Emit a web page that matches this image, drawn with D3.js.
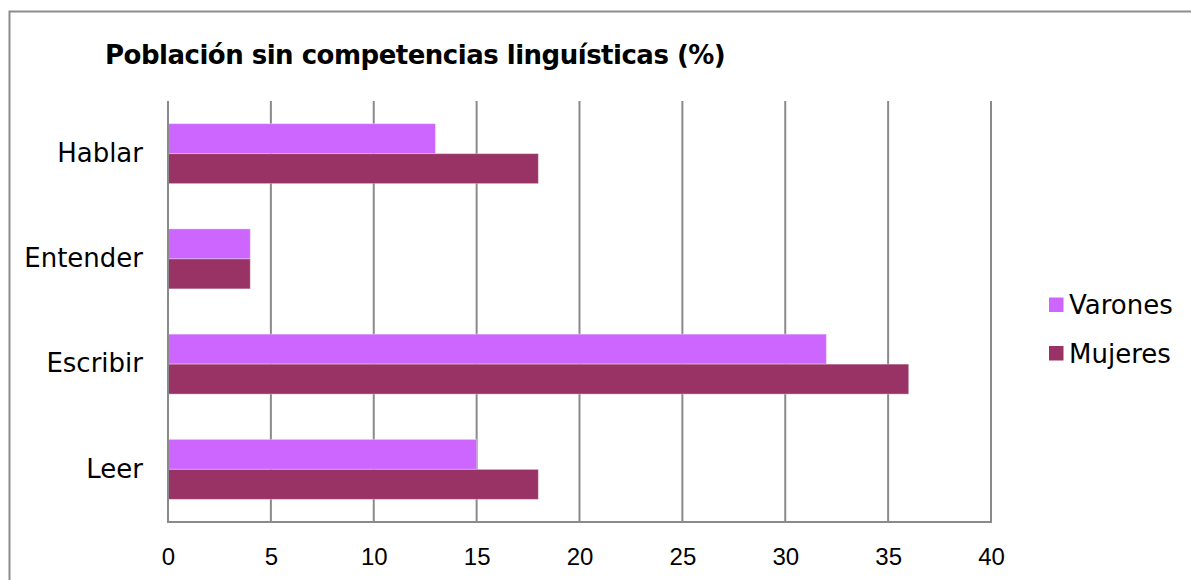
<!DOCTYPE html>
<html>
<head>
<meta charset="utf-8">
<script src="https://cdn.jsdelivr.net/npm/d3@7/dist/d3.min.js"></script>
<style>
  html, body { margin: 0; padding: 0; background: #fff; }
  svg { display: block; }
</style>
</head>
<body>
<svg id="chart" width="1191" height="580"></svg>
<script>
// Población sin competencias lingüísticas (%), por sexo
const categories = ["Hablar", "Entender", "Escribir", "Leer"];
const seriesNames = ["Varones", "Mujeres"];
const varones = [13, 4, 32, 15];
const mujeres = [18, 4, 36, 18];
const xTicks = [0, 5, 10, 15, 20, 25, 30, 35, 40];
const title = "Población sin competencias linguísticas (%)";

const colors = { Varones: "#cc66ff", Mujeres: "#993366" };
const labelFont = "'DejaVu Sans', sans-serif";
const numFont = "'Liberation Sans', Arial, sans-serif";

const svg = d3.select("#chart");

// outer chart frame (runs off the right and bottom edges)
svg.append("rect")
  .attr("x", 9.5).attr("y", 11.5)
  .attr("width", 1200).attr("height", 600)
  .attr("fill", "none").attr("stroke", "#8c8c8c").attr("stroke-width", 2);

const plot = { left: 168, right: 991, top: 101, bottom: 522 };

const x = d3.scaleLinear().domain([0, 40]).range([plot.left, plot.right]);
const y = d3.scaleBand().domain(categories).range([plot.top, plot.bottom]).paddingInner(0.43).paddingOuter(0.215);
const ySub = d3.scaleBand().domain(seriesNames).range([0, y.bandwidth()]);

// vertical gridlines
svg.append("g")
  .selectAll("line")
  .data(xTicks)
  .join("line")
  .attr("x1", d => x(d)).attr("x2", d => x(d))
  .attr("y1", plot.top).attr("y2", plot.bottom)
  .attr("stroke", "#8a8a8a").attr("stroke-width", 2);

// bars
const rows = categories.map((c, i) => ({ cat: c, Varones: varones[i], Mujeres: mujeres[i] }));
const groups = svg.append("g").selectAll("g")
  .data(rows)
  .join("g")
  .attr("transform", d => `translate(0,${y(d.cat)})`);

groups.selectAll("rect")
  .data(d => seriesNames.map(s => ({ s, v: d[s] })))
  .join("rect")
  .attr("x", x(0))
  .attr("y", d => ySub(d.s))
  .attr("width", d => x(d.v) - x(0))
  .attr("height", ySub.bandwidth())
  .attr("fill", d => colors[d.s])
  .attr("stroke", "rgba(255,255,255,0.35)")
  .attr("stroke-width", 1);

// left axis line and bottom axis line
svg.append("line")
  .attr("x1", plot.left).attr("x2", plot.left)
  .attr("y1", plot.top).attr("y2", plot.bottom + 1)
  .attr("stroke", "#8a8a8a").attr("stroke-width", 2);
svg.append("line")
  .attr("x1", plot.left - 1).attr("x2", plot.right + 1)
  .attr("y1", plot.bottom).attr("y2", plot.bottom)
  .attr("stroke", "#8a8a8a").attr("stroke-width", 2);

// x axis labels
const xAxis = d3.axisBottom(x).tickValues(xTicks).tickSize(0).tickPadding(0);
const gx = svg.append("g").attr("transform", `translate(0,${plot.bottom + 20})`).call(xAxis);
gx.select(".domain").remove();
gx.selectAll("text")
  .attr("font-family", numFont).attr("font-size", 24).attr("fill", "#000")
  .attr("dy", "0.95em");

// y axis labels
const yAxis = d3.axisLeft(y).tickSize(0).tickPadding(25);
const gy = svg.append("g").attr("transform", `translate(${plot.left},0)`).call(yAxis);
gy.select(".domain").remove();
gy.selectAll("text")
  .attr("font-family", labelFont).attr("font-size", 26).attr("fill", "#000");

// title
svg.append("text")
  .attr("x", 105).attr("y", 64)
  .attr("font-family", labelFont).attr("font-weight", "bold").attr("font-size", 26)
  .attr("letter-spacing", -0.5)
  .attr("fill", "#000")
  .text(title);

// legend
const legend = svg.append("g").selectAll("g")
  .data(seriesNames)
  .join("g")
  .attr("transform", (d, i) => `translate(1049,${305 + i * 48.5})`);
legend.append("rect")
  .attr("x", 0).attr("y", -7.5).attr("width", 14.5).attr("height", 14.5)
  .attr("fill", d => colors[d]);
legend.append("text")
  .attr("x", 20).attr("y", 0).attr("dy", "0.35em")
  .attr("font-family", labelFont).attr("font-size", 26).attr("fill", "#000")
  .text(d => d);
</script>
</body>
</html>
